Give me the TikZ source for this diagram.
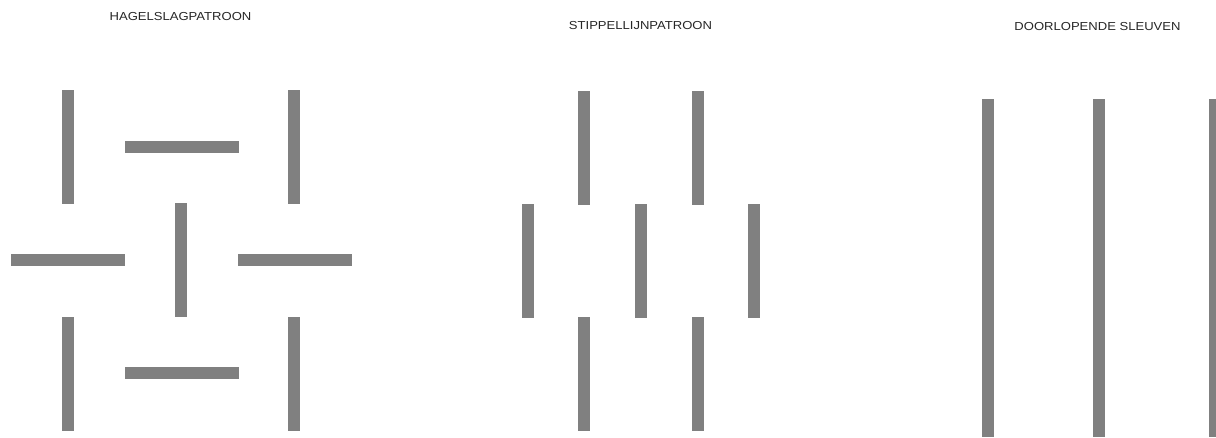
\documentclass[tikz,border=0pt]{standalone}
\usepackage{fontspec}
\setmainfont{Liberation Sans}
\definecolor{bargray}{HTML}{808080}
\begin{document}
\begin{tikzpicture}[x=1pt,y=-1pt,
  bar/.style={fill=bargray,draw=none},
  title/.style={inner sep=0pt,font=\fontsize{11.6}{13}\selectfont,xscale=1.125,text=black!85}]
\useasboundingbox (0,0) rectangle (1216,437);
% titles
\node[title] (t1) at (180.5,16.5) {HAGELSLAGPATROON};
\node[title] (t2) at (640.5,26) {STIPPELLIJNPATROON};
\node[title] (t3) at (1097.5,27) {DOORLOPENDE SLEUVEN};
% panel 1: hagelslag
\fill[bar] (62,90) rectangle (74,204);
\fill[bar] (288,90) rectangle (300,204);
\fill[bar] (125,141) rectangle (239,153);
\fill[bar] (175,203) rectangle (187,317);
\fill[bar] (11,254) rectangle (125,266);
\fill[bar] (238,254) rectangle (352,266);
\fill[bar] (62,317) rectangle (74,431);
\fill[bar] (288,317) rectangle (300,431);
\fill[bar] (125,367) rectangle (239,379);
% panel 2: stippellijn
\fill[bar] (578,91) rectangle (590,205);
\fill[bar] (692,91) rectangle (704,205);
\fill[bar] (522,204) rectangle (534,318);
\fill[bar] (635,204) rectangle (647,318);
\fill[bar] (748,204) rectangle (760,318);
\fill[bar] (578,317) rectangle (590,431);
\fill[bar] (692,317) rectangle (704,431);
% panel 3: doorlopende sleuven
\fill[bar] (982,99) rectangle (994,437);
\fill[bar] (1093,99) rectangle (1105,437);
\fill[bar] (1209,99) rectangle (1221,437);
\end{tikzpicture}
\end{document}
